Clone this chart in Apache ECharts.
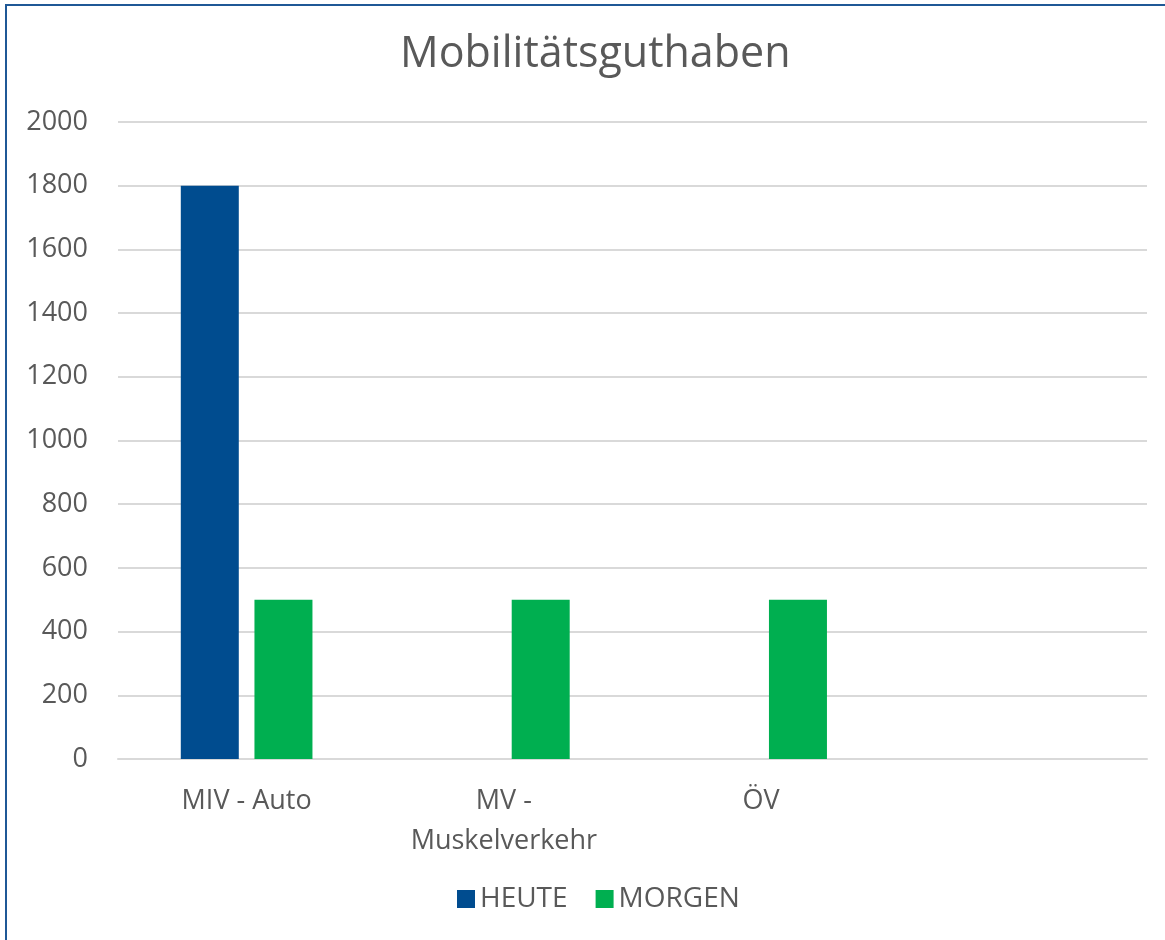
<!DOCTYPE html>
<html>
<head>
<meta charset="utf-8">
<script src="https://cdn.jsdelivr.net/npm/echarts@6/dist/echarts.min.js"></script>
<style>
  html, body { margin: 0; padding: 0; background: #fff; }
  #frame { position: absolute; left: 5px; top: 4px; width: 1200px; height: 1000px;
           border-top: 2px solid #1f5896; border-left: 2px solid #1f5896; }
  #chart { position: absolute; left: 0; top: 0; width: 1165px; height: 940px; }
</style>
</head>
<body>
<div id="frame"></div>
<div id="chart"></div>
<script>
const categories = ["MIV - Auto", "MV -\nMuskelverkehr", "ÖV", ""];
const heute = [1800, null, null, null];
const morgen = [500, 500, 500, null];
const yTicks = [0, 200, 400, 600, 800, 1000, 1200, 1400, 1600, 1800, 2000];

const font = "'Open Sans', sans-serif";
const textColor = "#595959";

const chart = echarts.init(document.getElementById("chart"));
const option = {
  animation: false,
  title: {
    text: "Mobilitätsguthaben",
    left: 395,
    top: 28,
    textStyle: { fontFamily: font, fontSize: 43, fontWeight: "normal", color: textColor }
  },
  legend: {
    data: ["HEUTE", "MORGEN"],
    bottom: 22,
    left: 452,
    icon: "rect",
    itemWidth: 18,
    itemHeight: 18,
    itemGap: 28,
    textStyle: { fontFamily: font, fontSize: 28, color: textColor }
  },
  grid: { left: 118, right: 18, top: 122, bottom: 181 },
  xAxis: {
    type: "category",
    data: categories,
    axisLine: { lineStyle: { color: "#d9d9d9", width: 2 } },
    axisTick: { show: false },
    axisLabel: { fontFamily: font, fontSize: 27, color: textColor, margin: 22, lineHeight: 40 }
  },
  yAxis: {
    type: "value",
    min: yTicks[0],
    max: yTicks[yTicks.length - 1],
    interval: 200,
    axisLine: { show: false },
    axisTick: { show: false },
    axisLabel: { fontFamily: font, fontSize: 27, color: textColor, margin: 30,
                 formatter: v => String(v) },
    splitLine: { lineStyle: { color: "#d9d9d9", width: 2 } }
  },
  series: [
    { name: "HEUTE", type: "bar", data: heute, barWidth: 58, barGap: "27%",
      itemStyle: { color: "#004c8f" } },
    { name: "MORGEN", type: "bar", data: morgen, barWidth: 58, barGap: "27%",
      itemStyle: { color: "#00af50" } }
  ]
};
chart.setOption(option);
</script>
</body>
</html>
